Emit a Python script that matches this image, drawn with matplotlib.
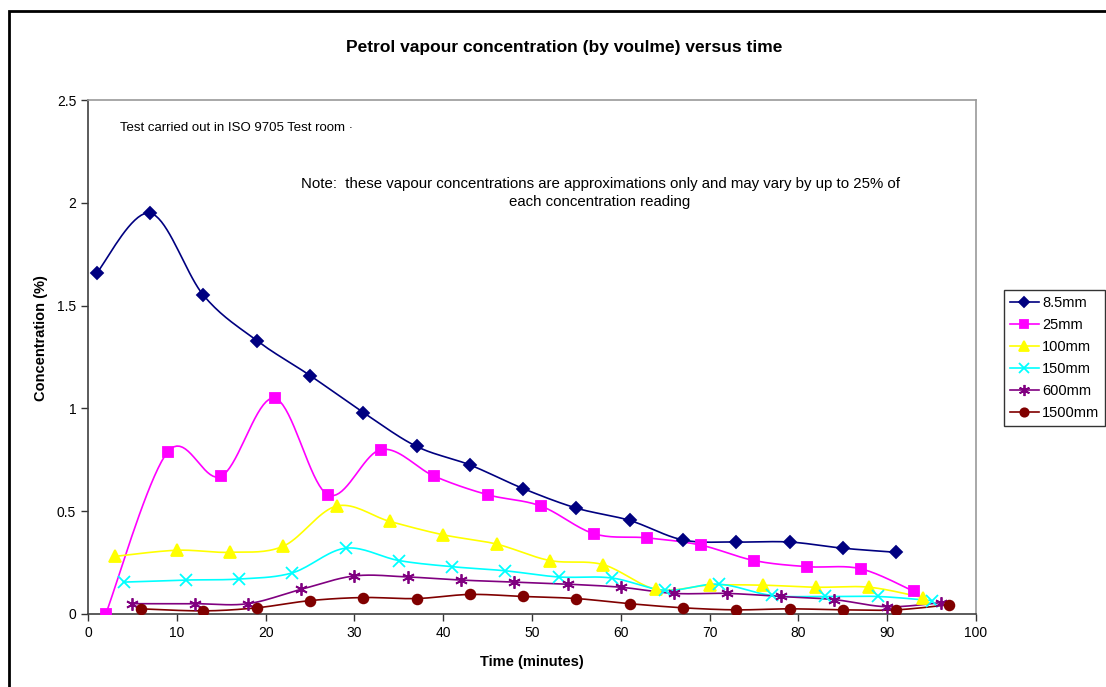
import numpy as np
import matplotlib.pyplot as plt
from matplotlib.patches import Rectangle

plt.rcParams['font.family'] = ['Liberation Sans', 'DejaVu Sans']

# -----------------------------
# Data
t_85 = [1, 7, 13, 19, 25, 31, 37, 43, 49, 55, 61, 67, 73, 79, 85, 91]
c_85 = [1.66, 1.95, 1.55, 1.33, 1.16, 0.98, 0.815, 0.725, 0.61, 0.515, 0.455, 0.36, 0.35, 0.35, 0.32, 0.30]

t_25 = [2, 9, 15, 21, 27, 33, 39, 45, 51, 57, 63, 69, 75, 81, 87, 93]
c_25 = [0.0, 0.79, 0.67, 1.05, 0.58, 0.80, 0.67, 0.58, 0.525, 0.39, 0.37, 0.335, 0.26, 0.23, 0.22, 0.11]

t_100 = [3, 10, 16, 22, 28, 34, 40, 46, 52, 58, 64, 70, 76, 82, 88, 94]
c_100 = [0.28, 0.31, 0.30, 0.33, 0.525, 0.45, 0.385, 0.34, 0.26, 0.24, 0.12, 0.14, 0.14, 0.13, 0.13, 0.08]

t_150 = [4, 11, 17, 23, 29, 35, 41, 47, 53, 59, 65, 71, 77, 83, 89, 95]
c_150 = [0.155, 0.165, 0.17, 0.20, 0.32, 0.26, 0.23, 0.21, 0.18, 0.175, 0.115, 0.145, 0.09, 0.085, 0.085, 0.065]

t_600 = [5, 12, 18, 24, 30, 36, 42, 48, 54, 60, 66, 72, 78, 84, 90, 96]
c_600 = [0.05, 0.05, 0.05, 0.12, 0.185, 0.18, 0.165, 0.155, 0.145, 0.13, 0.10, 0.10, 0.085, 0.07, 0.035, 0.055]

t_1500 = [6, 13, 19, 25, 31, 37, 43, 49, 55, 61, 67, 73, 79, 85, 91, 97]
c_1500 = [0.025, 0.015, 0.03, 0.065, 0.08, 0.075, 0.095, 0.085, 0.075, 0.05, 0.03, 0.02, 0.025, 0.02, 0.02, 0.045]

labels = ['8.5mm', '25mm', '100mm', '150mm', '600mm', '1500mm']


# -----------------------------
# Excel-style smoothed line (Catmull-Rom through the points)
def smooth(x, y, n=20):
    p = np.column_stack([x, y]).astype(float)
    out = [p[0]]
    for i in range(len(p) - 1):
        p0 = p[i - 1] if i > 0 else p[i]
        p1, p2 = p[i], p[i + 1]
        p3 = p[i + 2] if i + 2 < len(p) else p[i + 1]
        c1 = p1 + (p2 - p0) / 6
        c2 = p2 - (p3 - p1) / 6
        s = np.linspace(0, 1, n)[1:, None]
        seg = ((1 - s) ** 3) * p1 + 3 * ((1 - s) ** 2) * s * c1 + 3 * (1 - s) * s ** 2 * c2 + s ** 3 * p2
        out.extend(seg)
    out = np.array(out)
    return out[:, 0], out[:, 1]


fig = plt.figure(figsize=(11.06, 6.87), dpi=100)
ax = fig.add_axes([0.0796, 0.1063, 0.8029, 0.7481])

series = [
    (t_85, c_85, '#000080', 'D', 6),
    (t_25, c_25, '#FF00FF', 's', 7),
    (t_100, c_100, '#FFFF00', '^', 8),
    (t_150, c_150, '#00FFFF', 'x', 8),
    (t_600, c_600, '#800080', (6, 2, 0), 9),
    (t_1500, c_1500, '#800000', 'o', 7),
]

handles = []
for (t, c, col, mk, ms), lab in zip(series, labels):
    sx, sy = smooth(t, c)
    ax.plot(sx, sy, color=col, lw=1.2, zorder=2)
    ax.plot(t, c, ls='none', marker=mk, ms=ms, color=col, mec=col, mew=1.3, zorder=3)
    h, = ax.plot([], [], color=col, lw=1.2, marker=mk, ms=ms - 1, mec=col, mew=1.3)
    handles.append(h)

ax.set_xlim(0, 100)
ax.set_ylim(0, 2.5)
ax.set_xticks(range(0, 101, 10))
ax.set_yticks([0, 0.5, 1, 1.5, 2, 2.5])
ax.set_yticklabels(['0', '0.5', '1', '1.5', '2', '2.5'])
ax.tick_params(direction='out', length=5, width=1, labelsize=10, colors='#333333', labelcolor='black')
ax.spines['left'].set_color('#404040')
ax.spines['bottom'].set_color('#404040')
ax.spines['top'].set_color('#999999')
ax.spines['right'].set_color('#999999')
for s in ax.spines.values():
    s.set_linewidth(1.2)

ax.set_xlabel('Time (minutes)', fontsize=10.5, fontweight='bold')
ax.set_ylabel('Concentration (%)', fontsize=10.5, fontweight='bold')
ax.xaxis.set_label_coords(0.5, -0.093)
ax.yaxis.set_label_coords(-0.053, 0.537)
ax.xaxis.label.set_va('center')
ax.yaxis.label.set_va('center')

fig.text(0.51, 0.931, 'Petrol vapour concentration (by voulme) versus time',
         ha='center', va='center', fontsize=12.5, fontweight='bold')

ax.text(3.6, 2.364, 'Test carried out in ISO 9705 Test room \u00b7', fontsize=9.5, va='center')
ax.text(57.66, 2.048, 'Note:  these vapour concentrations are approximations only and may vary by up to 25% of\neach concentration reading',
        fontsize=10.8, ha='center', va='center', linespacing=1.35)

leg = fig.legend(handles, labels, loc='upper left', bbox_to_anchor=(0.9078, 0.578),
                 fontsize=10.5, frameon=True, fancybox=False, edgecolor='black',
                 handlelength=2.0, handletextpad=0.2, borderpad=0.4, labelspacing=0.55,
                 borderaxespad=0)
leg.get_frame().set_linewidth(1.0)

# outer chart frame (cut off at right and bottom)
fig.patches.append(Rectangle((9 / 1106, -0.1), 1.2, (687 - 11) / 687 + 0.1,
                             transform=fig.transFigure, fill=False, lw=2, edgecolor='black'))

fig.savefig('out.png', dpi=100)
